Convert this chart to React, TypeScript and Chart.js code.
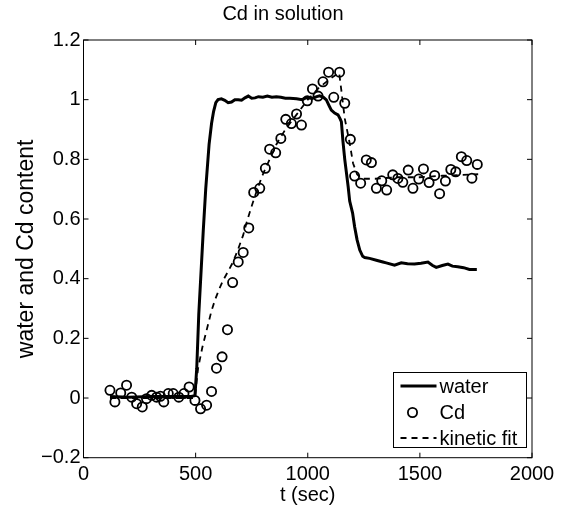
import React, { useEffect, useRef } from 'react';
import { Chart, registerables } from 'chart.js';

Chart.register(...registerables);

const FONT = '"Liberation Sans", Arial, Helvetica, sans-serif';

const titleText = 'Cd in solution';
const xLabel = 't (sec)';
const yLabel = 'water and Cd content';
const legendLabels = ['water', 'Cd', 'kinetic fit'];

const xTicks = [0, 500, 1000, 1500, 2000];
const yTicks = [-0.2, 0, 0.2, 0.4, 0.6, 0.8, 1, 1.2];

const waterT = [118, 200, 300, 400, 480, 497, 505, 514, 534, 545, 560, 571, 580, 590, 600, 615, 630, 645, 660, 675, 690, 705, 720, 735, 750, 765, 780, 800, 820, 840, 860, 880, 900, 920, 950, 975, 994, 1020, 1040, 1053, 1070, 1083, 1095, 1105, 1120, 1135, 1145, 1150, 1157, 1165, 1172, 1180, 1187, 1200, 1209, 1220, 1232, 1245, 1254, 1276, 1306, 1335, 1350, 1387, 1417, 1445, 1476, 1505, 1536, 1555, 1573, 1600, 1625, 1645, 1669, 1695, 1721, 1754];
const waterV = [0.005, 0.003, 0.005, 0.005, 0.005, 0.008, 0.1, 0.28, 0.56, 0.7, 0.85, 0.92, 0.96, 0.99, 1.0, 1.003, 0.998, 0.99, 0.992, 1.0, 1.0, 0.998, 1.006, 1.012, 1.005, 1.006, 1.01, 1.008, 1.012, 1.008, 1.01, 1.008, 1.005, 1.005, 1.003, 1.0, 1.007, 1.004, 1.01, 1.013, 1.008, 0.999, 0.98, 0.965, 0.955, 0.949, 0.935, 0.926, 0.86, 0.8, 0.758, 0.71, 0.66, 0.62, 0.574, 0.53, 0.496, 0.475, 0.471, 0.468, 0.462, 0.456, 0.453, 0.445, 0.453, 0.45, 0.449, 0.452, 0.456, 0.445, 0.438, 0.444, 0.449, 0.442, 0.44, 0.437, 0.431, 0.431];

const cdT = [118, 140, 166, 192, 215, 237, 262, 281, 304, 326, 343, 358, 378, 400, 425, 448, 471, 497, 522, 549, 571, 593, 618, 642, 665, 690, 712, 737, 759, 786, 811, 830, 857, 880, 902, 927, 950, 972, 998, 1021, 1046, 1068, 1093, 1116, 1142, 1165, 1190, 1209, 1236, 1261, 1284, 1306, 1330, 1352, 1379, 1402, 1424, 1448, 1469, 1495, 1516, 1541, 1566, 1588, 1614, 1638, 1660, 1685, 1709, 1732, 1756];
const cdV = [0.026, -0.013, 0.017, 0.043, 0.003, -0.019, -0.03, -0.002, 0.009, 0.003, 0.006, -0.013, 0.015, 0.015, 0.003, 0.015, 0.037, -0.008, -0.036, -0.024, 0.022, 0.1, 0.138, 0.229, 0.387, 0.456, 0.488, 0.57, 0.689, 0.703, 0.77, 0.834, 0.822, 0.87, 0.934, 0.92, 0.952, 0.915, 0.996, 1.036, 1.012, 1.06, 1.092, 1.008, 1.092, 0.988, 0.867, 0.744, 0.72, 0.798, 0.789, 0.703, 0.728, 0.697, 0.748, 0.736, 0.723, 0.764, 0.703, 0.734, 0.768, 0.722, 0.746, 0.685, 0.727, 0.766, 0.758, 0.809, 0.796, 0.737, 0.783];

const fitT = [118, 497, 505, 511, 530, 549, 570, 586, 605, 623, 645, 667, 690, 712, 730, 749, 775, 800, 830, 860, 900, 950, 1000, 1050, 1100, 1140, 1145, 1150, 1165, 1187, 1202, 1220, 1240, 1300, 1400, 1500, 1600, 1760];
const fitV = [0, 0, 0.06, 0.1, 0.17, 0.227, 0.29, 0.328, 0.365, 0.395, 0.425, 0.456, 0.5, 0.546, 0.595, 0.641, 0.7, 0.75, 0.8, 0.85, 0.9, 0.95, 1.0, 1.04, 1.07, 1.09, 1.06, 1.03, 0.937, 0.854, 0.787, 0.75, 0.735, 0.735, 0.74, 0.74, 0.745, 0.75];

const toXY = (t: number[], v: number[]) => t.map((x, i) => ({ x, y: v[i] }));

const fmtY = (v: number) => {
  const s = String(Math.round(v * 10) / 10);
  return s.replace('-', '\u2212');
};

const framePlugin = {
  id: 'matlabFrame',
  afterDatasetsDraw(chart: any) {
    const { ctx, chartArea } = chart;
    const { left, right, top, bottom } = chartArea;
    const xs = chart.scales.x;
    const ys = chart.scales.y;
    const tl = 5;
    ctx.save();
    ctx.strokeStyle = '#000';
    ctx.lineWidth = 1;
    ctx.strokeRect(left, top, right - left, bottom - top);
    ctx.beginPath();
    xTicks.forEach((v) => {
      const px = xs.getPixelForValue(v);
      ctx.moveTo(px, bottom);
      ctx.lineTo(px, bottom - tl);
      ctx.moveTo(px, top);
      ctx.lineTo(px, top + tl);
    });
    yTicks.forEach((v) => {
      const py = ys.getPixelForValue(v);
      ctx.moveTo(left, py);
      ctx.lineTo(left + tl, py);
      ctx.moveTo(right, py);
      ctx.lineTo(right - tl, py);
    });
    ctx.stroke();
    ctx.restore();
  },
  afterDraw(chart: any) {
    const { ctx } = chart;
    const bx = 393.5, by = 372.5, bw = 133, bh = 75;
    const rows = [386, 412.5, 438];
    ctx.save();
    ctx.fillStyle = '#fff';
    ctx.fillRect(bx, by, bw, bh);
    ctx.strokeStyle = '#000';
    ctx.lineWidth = 1;
    ctx.strokeRect(bx, by, bw, bh);
    ctx.lineWidth = 3;
    ctx.beginPath();
    ctx.moveTo(400.5, rows[0]);
    ctx.lineTo(436.5, rows[0]);
    ctx.stroke();
    ctx.lineWidth = 1.8;
    ctx.beginPath();
    ctx.arc(412.5, rows[1], 4.6, 0, Math.PI * 2);
    ctx.stroke();
    ctx.setLineDash([6, 5]);
    ctx.beginPath();
    ctx.moveTo(400.5, rows[2]);
    ctx.lineTo(436.5, rows[2]);
    ctx.stroke();
    ctx.setLineDash([]);
    ctx.fillStyle = '#000';
    ctx.font = `20px ${FONT}`;
    ctx.textBaseline = 'middle';
    ctx.textAlign = 'left';
    legendLabels.forEach((l, i) => ctx.fillText(l, 439.5, rows[i] + 1));
    ctx.restore();
  },
};

export default function App() {
  const ref = useRef<HTMLCanvasElement | null>(null);
  useEffect(() => {
    if (!ref.current) return;
    const chart = new Chart(ref.current, {
      type: 'scatter',
      data: {
        datasets: [
          {
            label: legendLabels[0],
            data: toXY(waterT, waterV),
            showLine: true,
            borderColor: '#000',
            borderWidth: 3,
            pointRadius: 0,
            tension: 0,
          },
          {
            label: legendLabels[1],
            data: toXY(cdT, cdV),
            showLine: false,
            borderColor: '#000',
            backgroundColor: 'rgba(0,0,0,0)',
            pointStyle: 'circle',
            pointRadius: 4.6,
            pointBorderWidth: 1.8,
            borderWidth: 1.8,
          },
          {
            label: legendLabels[2],
            data: toXY(fitT, fitV),
            showLine: true,
            borderColor: '#000',
            borderWidth: 1.8,
            borderDash: [6, 5],
            pointRadius: 0,
            tension: 0,
          },
        ],
      },
      options: {
        animation: false,
        responsive: false,
        layout: { padding: { top: 0, left: 0, right: 0, bottom: 0 } },
        plugins: {
          legend: { display: false },
          tooltip: { enabled: false },
          title: {
            display: true,
            text: titleText,
            color: '#000',
            font: { family: FONT, size: 20, weight: 'normal' },
            padding: { top: 2, bottom: 14 },
          },
        },
        scales: {
          x: {
            type: 'linear',
            min: 0,
            max: 2000,
            afterBuildTicks: (s: any) => {
              s.ticks = xTicks.map((v) => ({ value: v }));
            },
            afterFit: (s: any) => {
              s.height = 52.3;
            },
            grid: { display: false, drawTicks: false },
            border: { display: false },
            ticks: {
              color: '#000',
              font: { family: FONT, size: 20 },
              padding: 5,
              maxRotation: 0,
              callback: (v: any) => String(v),
            },
            title: {
              display: true,
              text: xLabel,
              color: '#000',
              font: { family: FONT, size: 20 },
              padding: { top: 0, bottom: 3 },
            },
          },
          y: {
            type: 'linear',
            min: -0.2,
            max: 1.2,
            afterBuildTicks: (s: any) => {
              s.ticks = yTicks.map((v) => ({ value: v }));
            },
            afterFit: (s: any) => {
              s.width = 83.5;
            },
            grid: { display: false, drawTicks: false },
            border: { display: false },
            ticks: {
              color: '#000',
              font: { family: FONT, size: 20 },
              padding: 3,
              callback: (v: any) => fmtY(Number(v)),
            },
            title: {
              display: true,
              text: yLabel,
              color: '#000',
              font: { family: FONT, size: 23 },
              padding: { top: 13, bottom: 0 },
            },
          },
          yPad: {
            type: 'linear',
            position: 'right',
            display: true,
            min: -0.2,
            max: 1.2,
            afterFit: (s: any) => {
              s.width = 34;
            },
            grid: { display: false, drawTicks: false },
            border: { display: false },
            ticks: { display: false },
          },
        },
      },
      plugins: [framePlugin],
    });
    return () => chart.destroy();
  }, []);
  return (
    <div style={{ position: 'absolute', left: 0, top: 0, width: 566, height: 510, background: '#fff' }}>
      <canvas ref={ref} width={566} height={510} style={{ width: 566, height: 510, display: 'block' }} />
    </div>
  );
}
